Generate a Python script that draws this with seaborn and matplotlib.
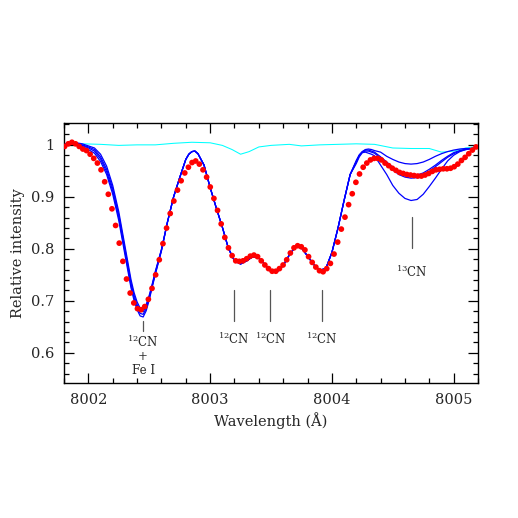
import numpy as np
import pandas as pd
import matplotlib
matplotlib.use("Agg")
import matplotlib.pyplot as plt
import seaborn as sns

# observed spectrum, sampled every 0.03 A starting at 8001.805
obs_start = 8001.805
obs_step = 0.0299
obs_flux = [
    0.997, 1.002, 1.005, 1.002, 0.997, 0.992, 0.989, 0.982, 0.974, 0.965,
    0.952, 0.929, 0.905, 0.877, 0.845, 0.811, 0.776, 0.742, 0.715, 0.696,
    0.685, 0.683, 0.689, 0.703, 0.724, 0.750, 0.779, 0.810, 0.840, 0.868,
    0.892, 0.913, 0.931, 0.946, 0.957, 0.966, 0.969, 0.963, 0.952, 0.938,
    0.919, 0.897, 0.874, 0.848, 0.822, 0.802, 0.787, 0.777, 0.776, 0.777,
    0.781, 0.786, 0.788, 0.785, 0.777, 0.769, 0.762, 0.757, 0.757, 0.762,
    0.769, 0.779, 0.792, 0.802, 0.806, 0.804, 0.798, 0.785, 0.774, 0.765,
    0.758, 0.756, 0.762, 0.772, 0.790, 0.813, 0.838, 0.861, 0.885, 0.906,
    0.928, 0.944, 0.957, 0.965, 0.971, 0.974, 0.974, 0.971, 0.965, 0.960,
    0.955, 0.951, 0.947, 0.945, 0.943, 0.942, 0.941, 0.940, 0.940, 0.942,
    0.945, 0.949, 0.952, 0.953, 0.954, 0.954, 0.955, 0.958, 0.963, 0.970,
    0.976, 0.983, 0.990, 0.996,
]
obs_wave = obs_start + obs_step * np.arange(len(obs_flux))

# synthetic spectra (four 12C/13C ratios)
# 8001.80 - 8002.60: first feature, small 13CN blend
left_wave = [8001.80, 8001.85, 8001.90, 8001.95, 8002.00, 8002.05, 8002.10,
             8002.15, 8002.20, 8002.25, 8002.30, 8002.35, 8002.375, 8002.40,
             8002.425, 8002.45, 8002.475, 8002.50, 8002.525, 8002.55, 8002.60]
left_top = [1.001, 1.003, 1.004, 1.002, 0.998, 0.994, 0.982, 0.959, 0.922,
            0.871, 0.806, 0.741, 0.716, 0.698, 0.686, 0.684, 0.693, 0.711,
            0.733, 0.757, 0.799]
left_mid = [1.001, 1.003, 1.003, 1.000, 0.996, 0.991, 0.977, 0.953, 0.916,
            0.865, 0.800, 0.735, 0.711, 0.693, 0.681, 0.679, 0.689, 0.708,
            0.731, 0.755, 0.798]
left_mid2 = [1.001, 1.002, 1.002, 0.999, 0.994, 0.988, 0.973, 0.948, 0.911,
             0.860, 0.795, 0.730, 0.706, 0.688, 0.676, 0.674, 0.685, 0.705,
             0.729, 0.753, 0.797]
left_bot = [1.001, 1.002, 1.001, 0.997, 0.991, 0.984, 0.968, 0.943, 0.905,
            0.854, 0.789, 0.725, 0.701, 0.683, 0.671, 0.669, 0.681, 0.702,
            0.727, 0.751, 0.796]
# 8002.65 - 8004.15, identical for all models
middle_wave = [8002.65, 8002.70, 8002.75, 8002.80, 8002.825, 8002.85,
               8002.875, 8002.90, 8002.95, 8003.00, 8003.05, 8003.10,
               8003.15, 8003.20, 8003.25, 8003.30, 8003.35, 8003.40,
               8003.45, 8003.50, 8003.55, 8003.60, 8003.65, 8003.70,
               8003.75, 8003.80, 8003.85, 8003.90, 8003.95, 8004.00,
               8004.05, 8004.10, 8004.15]
middle = [0.852, 0.900, 0.937, 0.972, 0.982, 0.987, 0.988, 0.983, 0.961,
          0.918, 0.879, 0.842, 0.801, 0.777, 0.771, 0.777, 0.785, 0.782,
          0.770, 0.756, 0.756, 0.768, 0.788, 0.804, 0.802, 0.786, 0.770,
          0.759, 0.762, 0.793, 0.840, 0.893, 0.943]
# 8004.20 - 8005.20: 13CN line
right_wave = [8004.20, 8004.225, 8004.25, 8004.275, 8004.30, 8004.325,
              8004.35, 8004.40, 8004.45, 8004.50, 8004.55, 8004.60, 8004.65,
              8004.70, 8004.75, 8004.80, 8004.85, 8004.90, 8004.95, 8005.00,
              8005.05, 8005.10, 8005.15, 8005.20]
right_top = [0.970, 0.981, 0.987, 0.991, 0.992, 0.991, 0.989, 0.986, 0.978,
             0.972, 0.967, 0.964, 0.963, 0.964, 0.967, 0.972, 0.978, 0.983,
             0.987, 0.990, 0.992, 0.993, 0.993, 0.994]
right_mid = [0.968, 0.980, 0.987, 0.990, 0.990, 0.988, 0.986, 0.977, 0.967,
             0.957, 0.948, 0.943, 0.941, 0.942, 0.946, 0.953, 0.961, 0.970,
             0.978, 0.985, 0.989, 0.992, 0.993, 0.994]
right_mid2 = [0.967, 0.979, 0.986, 0.988, 0.988, 0.986, 0.984, 0.974, 0.963,
              0.952, 0.943, 0.938, 0.936, 0.937, 0.942, 0.949, 0.958, 0.967,
              0.976, 0.983, 0.988, 0.991, 0.993, 0.994]
right_bot = [0.964, 0.977, 0.985, 0.986, 0.984, 0.982, 0.979, 0.961, 0.943,
             0.922, 0.907, 0.897, 0.893, 0.895, 0.905, 0.920, 0.936, 0.953,
             0.969, 0.980, 0.987, 0.991, 0.993, 0.994]

model_wave = left_wave + middle_wave + right_wave
models = {
    "top": left_top + middle + right_top,
    "mid": left_mid + middle + right_mid,
    "mid2": left_mid2 + middle + right_mid2,
    "bot": left_bot + middle + right_bot,
}

# telluric spectrum
tell_wave = [8001.80, 8001.95, 8002.10, 8002.25, 8002.40, 8002.55, 8002.70,
             8002.85, 8003.00, 8003.10, 8003.18, 8003.25, 8003.32, 8003.40,
             8003.50, 8003.65, 8003.75, 8003.90, 8004.05, 8004.20, 8004.35,
             8004.50, 8004.65, 8004.80, 8004.90, 8005.00, 8005.10, 8005.20]
tell_flux = [1.001, 1.002, 1.001, 0.999, 1.000, 1.000, 1.003, 1.005, 1.004,
             0.999, 0.991, 0.982, 0.987, 0.996, 0.999, 1.001, 0.998, 1.000,
             1.001, 1.002, 1.001, 0.994, 0.993, 0.993, 0.986, 0.988, 0.994,
             0.997]

# line identifications
line_pos = [8002.45, 8003.195, 8003.495, 8003.915, 8004.655]
line_names = ["$^{12}$CN\n+\nFe I", "$^{12}$CN", "$^{12}$CN", "$^{12}$CN",
              "$^{13}$CN"]

sns.set_style("ticks")
plt.rcParams['font.family'] = ['DejaVu Serif']
plt.rcParams['mathtext.fontset'] = 'dejavuserif'

fig = plt.figure(figsize=(5.18, 5.18), dpi=100)
ax = fig.add_axes([0.1236, 0.2606, 0.7992, 0.5019])

sns.lineplot(x=tell_wave, y=tell_flux, color="#00ffff", lw=0.75, ax=ax,
             estimator=None, sort=False)
for name, flux in models.items():
    sns.lineplot(x=model_wave, y=flux, color="#0000ff", lw=0.9, ax=ax,
                 estimator=None, sort=False)
sns.scatterplot(x=obs_wave, y=obs_flux, color="#ff0000", s=17,
                edgecolor="none", ax=ax, zorder=5)

# markers for the lines
for i, (x, name) in enumerate(zip(line_pos, line_names)):
    if i == 0:
        ax.plot([x, x], [0.642, 0.662], color="#555555", lw=0.9)
        ax.text(x, 0.637, name, ha="center", va="top", fontsize=8.5,
                linespacing=1.05)
    elif i == 4:
        ax.plot([x, x], [0.802, 0.862], color="#555555", lw=0.9)
        ax.text(x, 0.771, name, ha="center", va="top", fontsize=8.5)
    else:
        ax.plot([x, x], [0.662, 0.721], color="#555555", lw=0.9)
        ax.text(x, 0.642, name, ha="center", va="top", fontsize=8.5)

ax.set_xlim(8001.8, 8005.2)
ax.set_ylim(0.542, 1.042)
ax.set_xticks([8002, 8003, 8004, 8005])
ax.set_xticklabels(["8002", "8003", "8004", "8005"])
ax.set_xticks(np.arange(8001.8, 8005.21, 0.2), minor=True)
ax.set_yticks([0.6, 0.7, 0.8, 0.9, 1.0])
ax.set_yticklabels(["0.6", "0.7", "0.8", "0.9", "1"])
ax.set_yticks(np.arange(0.56, 1.041, 0.02), minor=True)
ax.tick_params(which="both", direction="in", top=True, right=True,
               labelsize=10.5, color="black")
ax.tick_params(which="major", length=7, width=0.9, pad=7)
ax.tick_params(which="minor", length=3.5, width=0.9)
for sp in ax.spines.values():
    sp.set_color("black")
    sp.set_linewidth(1.0)

ax.set_xlabel("Wavelength (Å)", fontsize=10.5)
ax.set_ylabel("Relative intensity", fontsize=10.5)

fig.savefig("out.png", dpi=100, facecolor="white")
